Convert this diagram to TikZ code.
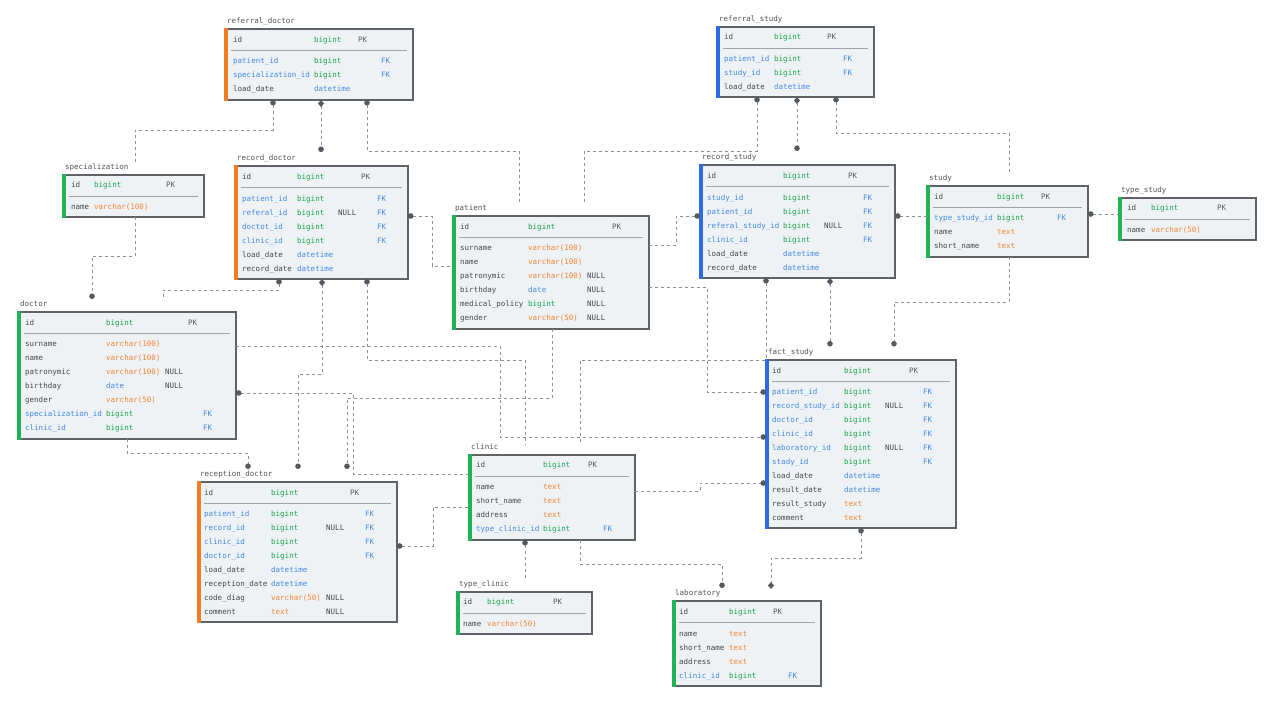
\documentclass[tikz,border=0pt]{standalone}
\usepackage{fontspec}
\newfontfamily\erfam{DejaVu Sans Mono}
\usetikzlibrary{arrows.meta,fit,calc}
\definecolor{cfill}{HTML}{EEF2F5}
\definecolor{cborder}{HTML}{5F6267}
\definecolor{csep}{HTML}{A0A4A9}
\definecolor{ctitle}{HTML}{50555B}
\definecolor{cname}{HTML}{45494E}
\definecolor{ckey}{HTML}{595D62}
\definecolor{cnull}{HTML}{45494E}
\definecolor{cgreen}{HTML}{1BA34B}
\definecolor{corange}{HTML}{EF8534}
\definecolor{cblue}{HTML}{4588E4}
\definecolor{cfk}{HTML}{4588E4}
\definecolor{sorange}{HTML}{F07C24}
\definecolor{sblue}{HTML}{2B6CE4}
\definecolor{sgreen}{HTML}{22B357}
\definecolor{cline}{HTML}{8D9096}
\definecolor{cmark}{HTML}{55585E}
\tikzset{
  erbox/.style={draw=cborder, fill=cfill, line width=1.4pt, inner sep=0pt, outer sep=0pt},
  ersep/.style={draw=csep, line width=1.1pt},
  ertitle/.style={inner sep=0pt, anchor=base west, font=\erfam\fontsize{7.5}{8}\selectfont, text=ctitle},
  ercell/.style={inner sep=0pt, anchor=base west, font=\erfam\fontsize{7.5}{8}\selectfont},
  conn/.style={draw=cline, line width=0.9pt, dash pattern=on 3pt off 3pt},
  erdot/.tip={Circle[length=5.5pt,color=cmark]},
  erdia/.tip={Diamond[length=7pt,width=6pt,color=cmark]},
}
% #1 id, #2 title, #3 x1, #4 y1, #5 x2, #6 y2, #7 strip colour
\newcommand\ertable[7]{%
  \node[erbox, fit={(#3,#4)(#5,#6)}] (#1) {};
  \fill[#7] (#3-0.7,#4-0.7) rectangle (#3+3.2,#6+0.7);
  \draw[ersep] (#3+6,#4+21.5) -- (#5-6,#4+21.5);
  \node[ertitle] (#1-title) at (#3+2,#4-5.5) {#2};
}
\newcommand\erhead[2]{%
  \node[ercell,text=cname] (#1-id) at (\erN,#2+2.7) {id};
  \node[ercell,text=cgreen] (#1-idt) at (\erT,#2+2.7) {bigint};
  \node[ercell,text=ckey] (#1-pk) at (\erP,#2+2.7) {PK};
}
% #1 node name, #2 y, #3 field, #4 type, #5 type colour, #6 NULL, #7 FK
\newcommand\errow[7]{%
  \if\relax\detokenize{#7}\relax\def\erfc{cname}\else\def\erfc{cfk}\fi
  \node[ercell,text=\erfc] (#1) at (\erN,#2+2.7) {#3};
  \node[ercell,text=#5] (#1-t) at (\erT,#2+2.7) {#4};
  \if\relax\detokenize{#6}\relax\else\node[ercell,text=cnull] (#1-n) at (\erX,#2+2.7) {#6};\fi
  \if\relax\detokenize{#7}\relax\else\node[ercell,text=cfk] (#1-k) at (\erF,#2+2.7) {#7};\fi
}
\begin{document}
\begin{tikzpicture}[x=1pt,y=-1pt]
\fill[white] (0,0) rectangle (1279,702);
\useasboundingbox (0,0) rectangle (1279,702);

% referral_doctor
\def\erN{233}\def\erT{314}\def\erX{0}\def\erP{358}\def\erF{381}
\ertable{refd}{referral\_doctor}{225}{29}{413}{100}{sorange}
\erhead{refd}{40}
\errow{refd1}{61}{patient\_id}{bigint}{cgreen}{}{FK}
\errow{refd2}{75}{specialization\_id}{bigint}{cgreen}{}{FK}
\errow{refd3}{89}{load\_date}{datetime}{cblue}{}{}

% referral_study
\def\erN{724}\def\erT{774}\def\erP{827}\def\erF{843}
\ertable{refs}{referral\_study}{717}{27}{874}{97}{sblue}
\erhead{refs}{37}
\errow{refs1}{59}{patient\_id}{bigint}{cgreen}{}{FK}
\errow{refs2}{73}{study\_id}{bigint}{cgreen}{}{FK}
\errow{refs3}{87}{load\_date}{datetime}{cblue}{}{}

% specialization
\def\erN{71}\def\erT{94}\def\erP{166}
\ertable{spec}{specialization}{63}{175}{204}{217}{sgreen}
\erhead{spec}{185}
\errow{spec1}{207}{name}{varchar(100)}{corange}{}{}

% record_doctor
\def\erN{242}\def\erT{297}\def\erX{338}\def\erP{361}\def\erF{377}
\ertable{recd}{record\_doctor}{235}{166}{408}{279}{sorange}
\erhead{recd}{177}
\errow{recd1}{199}{patient\_id}{bigint}{cgreen}{}{FK}
\errow{recd2}{213}{referal\_id}{bigint}{cgreen}{NULL}{FK}
\errow{recd3}{227}{doctot\_id}{bigint}{cgreen}{}{FK}
\errow{recd4}{241}{clinic\_id}{bigint}{cgreen}{}{FK}
\errow{recd5}{255}{load\_date}{datetime}{cblue}{}{}
\errow{recd6}{269}{record\_date}{datetime}{cblue}{}{}

% patient
\def\erN{460}\def\erT{528}\def\erX{587}\def\erP{612}
\ertable{pat}{patient}{453}{216}{649}{329}{sgreen}
\erhead{pat}{227}
\errow{pat1}{248}{surname}{varchar(100)}{corange}{}{}
\errow{pat2}{262}{name}{varchar(100)}{corange}{}{}
\errow{pat3}{276}{patronymic}{varchar(100)}{corange}{NULL}{}
\errow{pat4}{290}{birthday}{date}{cblue}{NULL}{}
\errow{pat5}{304}{medical\_policy}{bigint}{cgreen}{NULL}{}
\errow{pat6}{318}{gender}{varchar(50)}{corange}{NULL}{}

% record_study
\def\erN{707}\def\erT{783}\def\erX{824}\def\erP{848}\def\erF{863}
\ertable{recs}{record\_study}{700}{165}{895}{278}{sblue}
\erhead{recs}{176}
\errow{recs1}{198}{study\_id}{bigint}{cgreen}{}{FK}
\errow{recs2}{212}{patient\_id}{bigint}{cgreen}{}{FK}
\errow{recs3}{226}{referal\_study\_id}{bigint}{cgreen}{NULL}{FK}
\errow{recs4}{240}{clinic\_id}{bigint}{cgreen}{}{FK}
\errow{recs5}{254}{load\_date}{datetime}{cblue}{}{}
\errow{recs6}{268}{record\_date}{datetime}{cblue}{}{}

% study
\def\erN{934}\def\erT{997}\def\erP{1041}\def\erF{1057}
\ertable{stu}{study}{927}{186}{1088}{257}{sgreen}
\erhead{stu}{197}
\errow{stu1}{218}{type\_study\_id}{bigint}{cgreen}{}{FK}
\errow{stu2}{232}{name}{text}{corange}{}{}
\errow{stu3}{246}{short\_name}{text}{corange}{}{}

% type_study
\def\erN{1127}\def\erT{1151}\def\erP{1217}
\ertable{tstu}{type\_study}{1119}{198}{1256}{240}{sgreen}
\erhead{tstu}{208}
\errow{tstu1}{230}{name}{varchar(50)}{corange}{}{}

% doctor
\def\erN{25}\def\erT{106}\def\erX{165}\def\erP{188}\def\erF{203}
\ertable{doc}{doctor}{18}{312}{236}{439}{sgreen}
\erhead{doc}{323}
\errow{doc1}{344}{surname}{varchar(100)}{corange}{}{}
\errow{doc2}{358}{name}{varchar(100)}{corange}{}{}
\errow{doc3}{372}{patronymic}{varchar(100)}{corange}{NULL}{}
\errow{doc4}{386}{birthday}{date}{cblue}{NULL}{}
\errow{doc5}{400}{gender}{varchar(50)}{corange}{}{}
\errow{doc6}{414}{specialization\_id}{bigint}{cgreen}{}{FK}
\errow{doc7}{428}{clinic\_id}{bigint}{cgreen}{}{FK}

% fact_study
\def\erN{772}\def\erT{844}\def\erX{885}\def\erP{909}\def\erF{923}
\ertable{fact}{fact\_study}{766}{360}{956}{528}{sblue}
\erhead{fact}{371}
\errow{fact1}{392}{patient\_id}{bigint}{cgreen}{}{FK}
\errow{fact2}{406}{record\_study\_id}{bigint}{cgreen}{NULL}{FK}
\errow{fact3}{420}{doctor\_id}{bigint}{cgreen}{}{FK}
\errow{fact4}{434}{clinic\_id}{bigint}{cgreen}{}{FK}
\errow{fact5}{448}{laboratory\_id}{bigint}{cgreen}{NULL}{FK}
\errow{fact6}{462}{stady\_id}{bigint}{cgreen}{}{FK}
\errow{fact7}{476}{load\_date}{datetime}{cblue}{}{}
\errow{fact8}{490}{result\_date}{datetime}{cblue}{}{}
\errow{fact9}{504}{result\_study}{text}{corange}{}{}
\errow{fact10}{518}{comment}{text}{corange}{}{}

% reception_doctor
\def\erN{204}\def\erT{271}\def\erX{326}\def\erP{350}\def\erF{365}
\ertable{recp}{reception\_doctor}{198}{482}{397}{622}{sorange}
\erhead{recp}{493}
\errow{recp1}{514}{patient\_id}{bigint}{cgreen}{}{FK}
\errow{recp2}{528}{record\_id}{bigint}{cgreen}{NULL}{FK}
\errow{recp3}{542}{clinic\_id}{bigint}{cgreen}{}{FK}
\errow{recp4}{556}{doctor\_id}{bigint}{cgreen}{}{FK}
\errow{recp5}{570}{load\_date}{datetime}{cblue}{}{}
\errow{recp6}{584}{reception\_date}{datetime}{cblue}{}{}
\errow{recp7}{598}{code\_diag}{varchar(50)}{corange}{NULL}{}
\errow{recp8}{612}{comment}{text}{corange}{NULL}{}

% clinic
\def\erN{476}\def\erT{543}\def\erP{588}\def\erF{603}
\ertable{clin}{clinic}{469}{455}{635}{540}{sgreen}
\erhead{clin}{465}
\errow{clin1}{487}{name}{text}{corange}{}{}
\errow{clin2}{501}{short\_name}{text}{corange}{}{}
\errow{clin3}{515}{address}{text}{corange}{}{}
\errow{clin4}{529}{type\_clinic\_id}{bigint}{cgreen}{}{FK}

% type_clinic
\def\erN{463}\def\erT{487}\def\erP{553}
\ertable{tcl}{type\_clinic}{457}{592}{592}{634}{sgreen}
\erhead{tcl}{602}
\errow{tcl1}{624}{name}{varchar(50)}{corange}{}{}

% laboratory
\def\erN{679}\def\erT{729}\def\erP{773}\def\erF{788}
\ertable{lab}{laboratory}{673}{601}{821}{686}{sgreen}
\erhead{lab}{612}
\errow{lab1}{634}{name}{text}{corange}{}{}
\errow{lab2}{648}{short\_name}{text}{corange}{}{}
\errow{lab3}{662}{address}{text}{corange}{}{}
\errow{lab4}{676}{clinic\_id}{bigint}{cgreen}{}{FK}

% ---------- connectors ----------
\draw[conn,erdot-,shorten >=11pt] (refd.south -| 273,0) |- (135,130) -- (spec.north -| 135,0);
\draw[conn,erdia-erdot,shorten >=14pt] (refd.south -| 321,0) -- (recd.north -| 321,0);
\draw[conn,erdot-,shorten >=13pt] (refd.south -| 367,0) |- (519,151) -- (pat.north -| 519,0);
\draw[conn,erdot-,shorten >=13pt] (refs.south -| 757,0) |- (584,151) -- (pat.north -| 584,0);
\draw[conn,erdia-erdot,shorten >=14pt] (refs.south -| 797,0) -- (recs.north -| 797,0);
\draw[conn,erdot-,shorten >=12pt] (refs.south -| 836,0) |- (1009,133) -- (stu.north -| 1009,0);
\draw[conn,-erdot,shorten >=13pt] (spec.south -| 135,0) |- (92,256) -- (doc.north -| 92,0);
\draw[conn,erdot-,shorten >=14pt] (recd.south -| 279,0) |- (163,290) -- (doc.north -| 163,0);
\draw[conn,erdia-erdot,shorten >=13pt] (recd.south -| 322,0) |- (298,374) -- (recp.north -| 298,0);
\draw[conn,erdot-,shorten >=10pt] (recd.south -| 367,0) |- (525,360) -- (clin.north -| 525,0);
\draw[conn,erdot-,shorten >=10pt] (recs.south -| 766,0) |- (580,360) -- (clin.north -| 580,0);
\draw[conn,-erdot] (doc.east |- 0,346) -| (500,437) -- (fact.west |- 0,437);
\draw[conn,-erdot,shorten >=13pt] (pat.south -| 552,0) |- (347,398) -- (recp.north -| 347,0);
\draw[conn,erdot-] (doc.east |- 0,393) -| (353,474) -- (clin.west |- 0,474);
\draw[conn,-erdot] (pat.east |- 0,287) -| (707,392) -- (fact.west |- 0,392);
\draw[conn,erdot-] (recs.west |- 0,216) -| (676,245) -- (pat.east |- 0,245);
\draw[conn,erdot-] (recd.east |- 0,216) -| (432,266) -- (pat.west |- 0,266);
\draw[conn,erdia-erdot,shorten >=13.5pt] (recs.south -| 830,0) -- (fact.north -| 830,0);
\draw[conn,-erdot,shorten >=13.5pt] (stu.south -| 1009,0) |- (894,302) -- (fact.north -| 894,0);
\draw[conn,erdot-] (recs.east |- 0,216) -- (stu.west |- 0,216);
\draw[conn,erdot-] (stu.east |- 0,214) -- (tstu.west |- 0,214);
\draw[conn,-erdot] (clin.east |- 0,491) -| (700,483) -- (fact.west |- 0,483);
\draw[conn,erdot-,shorten >=12pt] (clin.south -| 525,0) -- (tcl.north -| 525,0);
\draw[conn,-erdot,shorten >=13pt] (clin.south -| 580,0) |- (722,564) -- (lab.north -| 722,0);
\draw[conn,erdot-erdia,shorten >=12pt] (fact.south -| 861,0) |- (771,558) -- (lab.north -| 771,0);
\draw[conn,erdot-] (recp.east |- 0,546) -| (433,507) -- (clin.west |- 0,507);
\draw[conn,-erdot,shorten >=13pt] (doc.south -| 127,0) |- (248,453) -- (recp.north -| 248,0);
\end{tikzpicture}
\end{document}
